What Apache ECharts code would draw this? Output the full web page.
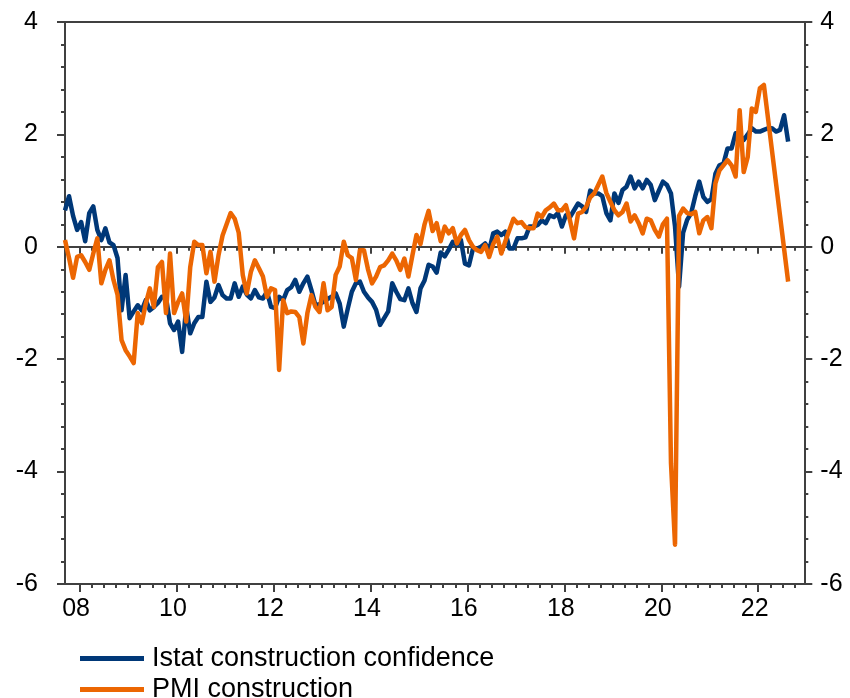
<!DOCTYPE html>
<html>
<head>
<meta charset="utf-8">
<script src="https://cdn.jsdelivr.net/npm/echarts@6/dist/echarts.min.js"></script>
<style>html,body{margin:0;padding:0;background:#fff}#chart{width:850px;height:698px}</style>
</head>
<body>
<div id="chart"></div>
<script>
// Monthly data, first value = Oct 2007, last value = Sep 2022
const firstMonthOffset = -3; // months relative to Jan 2008
const seriesNames = ['Istat construction confidence', 'PMI construction'];

const istat = [
  0.65, 0.9, 0.55, 0.3, 0.44, 0.1, 0.6, 0.72, 0.3, 0.12, 0.33, 0.08,
  0.03, -0.2, -1.13, -0.5, -1.27, -1.15, -1.04, -1.13, -0.95, -1.13, -1.07, -1.0,
  -0.89, -0.9, -1.36, -1.48, -1.33, -1.87, -1.07, -1.54, -1.36, -1.25, -1.25, -0.62,
  -0.98, -0.9, -0.68, -0.86, -0.92, -0.92, -0.65, -0.89, -0.71, -0.85, -0.92, -0.77,
  -0.9, -0.92, -0.8, -1.07, -1.09, -0.89, -0.95, -0.77, -0.72, -0.59, -0.8, -0.65,
  -0.53, -0.77, -1.04, -1.02, -0.98, -0.93, -0.89, -0.83, -1.01, -1.42, -1.1, -0.8,
  -0.65, -0.62, -0.8, -0.9, -0.98, -1.12, -1.39, -1.27, -1.15, -0.65, -0.8, -0.93,
  -0.95, -0.74, -1.0, -1.16, -0.74, -0.6, -0.32, -0.35, -0.46, -0.1, -0.17, -0.05,
  0.09, 0.03, 0.12, -0.3, -0.33, -0.03, -0.03, 0.0, 0.06, -0.06, 0.24, 0.27,
  0.21, 0.27, -0.03, -0.03, 0.15, 0.15, 0.17, 0.36, 0.36, 0.39, 0.47, 0.42,
  0.56, 0.53, 0.6, 0.36, 0.56, 0.53, 0.65, 0.77, 0.72, 0.62, 1.0, 0.95,
  0.95, 0.9, 0.6, 0.47, 0.95, 0.78, 1.01, 1.07, 1.25, 1.04, 1.16, 1.04,
  1.19, 1.1, 0.83, 1.0, 1.16, 1.1, 0.95, 0.36, -0.71, 0.25, 0.48, 0.6,
  0.9, 1.16, 0.89, 0.8, 0.85, 1.3, 1.45, 1.48, 1.75, 1.75, 2.02, 1.99,
  1.9, 2.0, 2.11, 2.05, 2.05, 2.08, 2.11, 2.11, 2.05, 2.08, 2.34, 1.87
];

const pmi = [
  0.12, -0.2, -0.55, -0.18, -0.15, -0.27, -0.41, -0.12, 0.15, -0.65, -0.41, -0.24,
  -0.59, -0.85, -1.66, -1.84, -1.95, -2.07, -1.18, -1.36, -1.01, -0.74, -1.07, -0.36,
  -0.27, -1.18, -0.12, -1.18, -0.98, -0.83, -1.33, -0.36, 0.09, 0.03, 0.03, -0.47,
  -0.09, -0.62, -0.15, 0.2, 0.4, 0.6, 0.5, 0.25, -0.5, -0.83, -0.45, -0.24,
  -0.38, -0.53, -0.89, -0.74, -0.77, -2.19, -0.95, -1.18, -1.15, -1.16, -1.25, -1.72,
  -1.18, -0.86, -1.07, -1.16, -0.65, -1.13, -1.07, -0.5, -0.35, 0.09, -0.15, -0.2,
  -0.59, -0.06, -0.06, -0.4, -0.65, -0.53, -0.36, -0.33, -0.24, -0.12, -0.24, -0.41,
  -0.21, -0.53, -0.15, 0.21, 0.05, 0.4, 0.64, 0.28, 0.42, 0.1, 0.36, 0.24,
  0.33, 0.06, 0.21, 0.3, 0.12, 0.0, -0.06, -0.09, 0.03, -0.18, 0.05, 0.18,
  -0.12, 0.1, 0.3, 0.5, 0.42, 0.44, 0.35, 0.33, 0.33, 0.59, 0.53, 0.65,
  0.7, 0.77, 0.65, 0.65, 0.74, 0.47, 0.15, 0.59, 0.62, 0.71, 0.88, 0.95,
  1.1, 1.25, 0.96, 0.8, 0.65, 0.56, 0.62, 0.77, 0.45, 0.56, 0.42, 0.24,
  0.5, 0.47, 0.3, 0.18, 0.4, 0.5, -3.85, -5.3, 0.55, 0.68, 0.6, 0.58,
  0.62, 0.24, 0.47, 0.53, 0.33, 1.13, 1.36, 1.45, 1.54, 1.45, 1.25, 2.43,
  1.33, 1.6, 2.46, 2.4, 2.82, 2.88, null, null, null, null, null, -0.62
];

const yearLabels = ['08', '10', '12', '14', '16', '18', '20', '22'];
const yMin = -6, yMax = 4, yStep = 2;

// ---- derived ----
const TICK_SHIFT = 0.6;               // ticks sit just after the start of January
const monthOf = lbl => (2000 + Number(lbl) - 2008) * 12 + TICK_SHIFT;
const majorTicks = yearLabels.map(monthOf);
const minorTicks = [];
for (let m = TICK_SHIFT; m < 180; m += 3) minorTicks.push(m);
const labelFor = v => {
  const i = majorTicks.findIndex(t => Math.abs(t - v) < 1e-6);
  return i >= 0 ? yearLabels[i] : '';
};
const toPoints = arr => arr.map((v, i) => [i + firstMonthOffset, v]);

const FONT = 'Liberation Sans, Arial, Helvetica, sans-serif';
const AX = '#404040';
const BLUE = '#003878';
const ORANGE = '#EC6602';
const X_MIN = -3, X_MAX = 180;

function xAx(extra) {
  return Object.assign({
    type: 'value', min: X_MIN, max: X_MAX, gridIndex: 0,
    splitLine: { show: false },
    axisLabel: { show: false },
    axisTick: { show: false },
    axisLine: { show: false, onZero: false }
  }, extra);
}

function legendFor(name, top) {
  return {
    data: [name], left: 75, top: top, orient: 'vertical', icon: 'rect',
    itemWidth: 64, itemHeight: 5, selectedMode: false,
    textStyle: { fontSize: 27, color: '#000', fontFamily: FONT, padding: [0, 0, 0, 3] }
  };
}

const chart = echarts.init(document.getElementById('chart'), null, { renderer: 'canvas' });
chart.setOption({
  animation: false,
  backgroundColor: '#fff',
  grid: { left: 65, right: 45.7, top: 22, bottom: 114, containLabel: false },
  legend: [legendFor(seriesNames[0], 640), legendFor(seriesNames[1], 671)],
  xAxis: [
    xAx({
      position: 'bottom',
      axisLine: { show: true, onZero: false, lineStyle: { color: AX, width: 2 } },
      axisTick: { show: true, customValues: majorTicks, length: 8, lineStyle: { color: AX, width: 2 } },
      axisLabel: { show: true, customValues: majorTicks, formatter: labelFor, margin: 13,
        fontSize: 25, color: '#000', fontFamily: FONT, padding: [0, 7, 0, 0] }
    }),
    xAx({
      position: 'bottom',
      axisTick: { show: true, customValues: minorTicks, length: 4, lineStyle: { color: AX, width: 2 } }
    }),
    xAx({
      position: 'bottom',
      axisLine: { show: true, onZero: true, onZeroAxisIndex: 0, lineStyle: { color: AX, width: 2 } },
      axisTick: { show: true, customValues: majorTicks, length: 7, lineStyle: { color: AX, width: 2 } }
    }),
    xAx({
      position: 'bottom',
      axisLine: { show: false, onZero: true, onZeroAxisIndex: 0 },
      axisTick: { show: true, customValues: minorTicks, length: 4, lineStyle: { color: AX, width: 2 } }
    }),
    xAx({
      position: 'top',
      axisLine: { show: true, onZero: false, lineStyle: { color: AX, width: 2 } }
    })
  ],
  yAxis: [
    {
      type: 'value', position: 'left', min: yMin, max: yMax, interval: yStep,
      splitLine: { show: false },
      axisLine: { show: true, onZero: false, lineStyle: { color: AX, width: 2 } },
      axisTick: { show: true, length: 8, lineStyle: { color: AX, width: 2 } },
      minorTick: { show: true, splitNumber: 5, length: 4, lineStyle: { color: AX, width: 2 } },
      axisLabel: { margin: 27, fontSize: 25, color: '#000', fontFamily: FONT }
    },
    {
      type: 'value', position: 'right', min: yMin, max: yMax, interval: yStep,
      splitLine: { show: false },
      axisLine: { show: true, onZero: false, lineStyle: { color: AX, width: 2 } },
      axisTick: { show: true, length: 8, lineStyle: { color: AX, width: 2 } },
      minorTick: { show: true, splitNumber: 5, length: 4, lineStyle: { color: AX, width: 2 } },
      axisLabel: { margin: 16, fontSize: 25, color: '#000', fontFamily: FONT }
    }
  ],
  series: [
    {
      name: seriesNames[0], type: 'line', xAxisIndex: 0, yAxisIndex: 0,
      data: toPoints(istat), showSymbol: false, symbol: 'none',
      color: BLUE, lineStyle: { color: BLUE, width: 4.5, join: 'round' }, z: 3
    },
    {
      name: seriesNames[1], type: 'line', xAxisIndex: 0, yAxisIndex: 0,
      data: toPoints(pmi), showSymbol: false, symbol: 'none', connectNulls: true,
      color: ORANGE, lineStyle: { color: ORANGE, width: 4.5, join: 'round' }, z: 4
    }
  ]
});
</script>
</body>
</html>
